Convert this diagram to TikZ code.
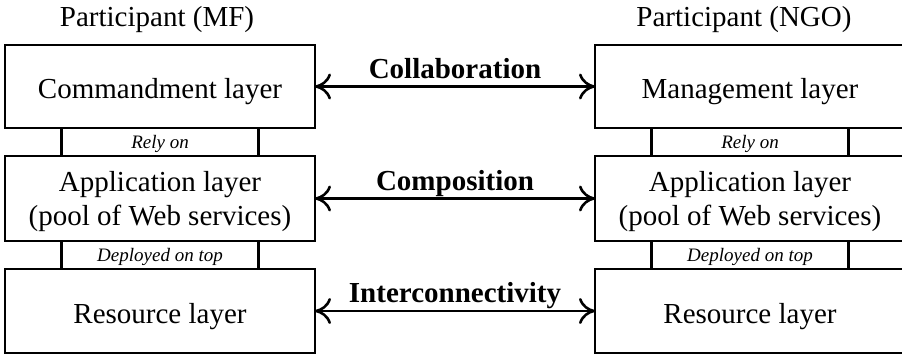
\documentclass[tikz,border=0pt]{standalone}
\usepackage{fontspec}
\setmainfont{Liberation Serif}
\usetikzlibrary{arrows.meta}
\begin{document}
\begin{tikzpicture}[x=1pt,y=-1pt,
  bigbox/.style={draw, line width=2.8pt, outer sep=0pt, minimum width=310pt, inner sep=0pt, align=center, font=\fontsize{29}{34}\selectfont},
  oneline/.style={text height=25pt, text depth=0pt},
  twoline/.style={text depth=0pt},
  smallbox/.style={draw, line width=2.8pt, outer sep=0pt, minimum width=197pt, minimum height=28pt, inner sep=0pt, text height=14pt, text depth=0pt, font=\fontsize{19}{22}\selectfont\itshape},
  title/.style={font=\fontsize{29}{36}\selectfont, inner sep=0pt},
  lbl/.style={font=\fontsize{29}{36}\selectfont\bfseries, inner sep=0pt},
  biarrow/.style={line width=2.6pt, {To[length=16pt,width=26pt]}-{To[length=16pt,width=26pt]}}
]
\useasboundingbox (0,0) rectangle (902,355);
% left column
\node[bigbox, oneline, minimum height=83pt] (L1) at (160,86.5) {Commandment layer};
\node[smallbox, anchor=north] (L1r) at (L1.south) {Rely on};
\node[bigbox, twoline, minimum height=85pt, anchor=north] (L2) at (L1r.south) {Application layer\\(pool of Web services)};
\node[smallbox, anchor=north] (L2d) at (L2.south) {Deployed on top};
\node[bigbox, oneline, minimum height=84pt, anchor=north] (L3) at (L2d.south) {Resource layer};
% right column
\node[bigbox, oneline, minimum height=83pt] (R1) at (750,86.5) {Management layer};
\node[smallbox, anchor=north] (R1r) at (R1.south) {Rely on};
\node[bigbox, twoline, minimum height=85pt, anchor=north] (R2) at (R1r.south) {Application layer\\(pool of Web services)};
\node[smallbox, anchor=north] (R2d) at (R2.south) {Deployed on top};
\node[bigbox, oneline, minimum height=84pt, anchor=north] (R3) at (R2d.south) {Resource layer};
% titles
\node[title, anchor=base] (tL) at (157,27) {Participant (MF)};
\node[title, anchor=base] (tR) at (744,27) {Participant (NGO)};
% arrows
\draw[biarrow] (L1) -- node[lbl, anchor=base, yshift=8pt] (c1) {Collaboration} (R1);
\draw[biarrow] (L2) -- node[lbl, anchor=base, yshift=8pt] (c2) {Composition} (R2);
\draw[biarrow] (L3) -- node[lbl, anchor=base, yshift=9pt] (c3) {Interconnectivity} (R3);
\end{tikzpicture}
\end{document}
